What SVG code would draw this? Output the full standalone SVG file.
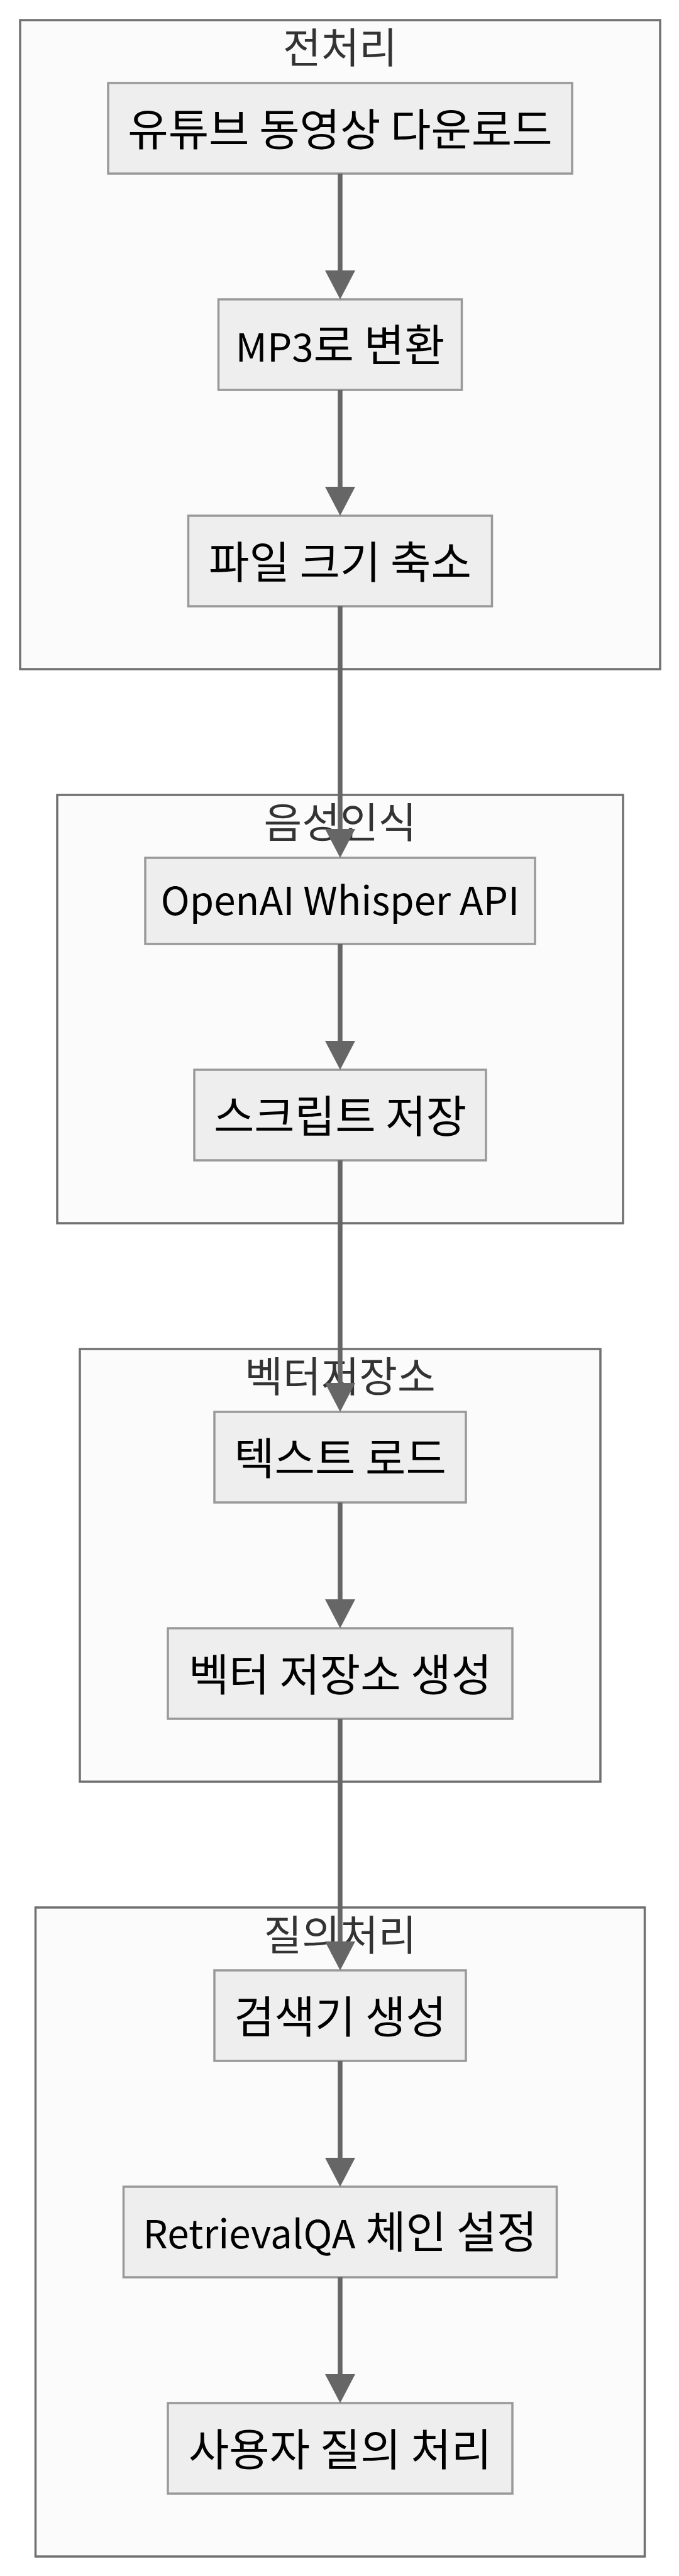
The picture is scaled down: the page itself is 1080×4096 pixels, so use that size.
<svg xmlns="http://www.w3.org/2000/svg" width="1080" height="4096" viewBox="0 0 1080 4096">
<defs>
<style>
.cluster rect{fill:#fbfbfb;stroke:#707070;stroke-width:3.5}
.cluster text{fill:#333333;font-family:"Noto Sans CJK KR","Noto Sans CJK SC",sans-serif;font-size:66px;text-anchor:middle}
.node rect{fill:#eeeeee;stroke:#999999;stroke-width:3.5}
.node text{fill:#000000;font-family:"Noto Sans CJK KR","Noto Sans CJK SC",sans-serif;font-size:70px;text-anchor:middle}
.node .lat{font-size:62px}
.edge line{stroke:#666666;stroke-width:7.5}
.edge polygon{fill:#666666}
</style>
</defs>
<rect x="0" y="0" width="1080" height="4096" fill="#ffffff"/>
<g id="clusters">
<g id="cluster-preprocess" class="cluster"><rect x="32" y="32" width="1018" height="1032"/><text x="541" y="100">전처리</text></g>
<g id="cluster-speech" class="cluster"><rect x="91" y="1264" width="900" height="681"/><text x="541" y="1332">음성인식</text></g>
<g id="cluster-vector" class="cluster"><rect x="127" y="2145" width="828" height="688"/><text x="541" y="2213">벡터저장소</text></g>
<g id="cluster-query" class="cluster"><rect x="56.5" y="3033" width="969" height="1032"/><text x="541" y="3101">질의처리</text></g>
</g>
<g id="nodes">
<g id="n1" class="node"><rect x="172" y="132" width="738" height="144"/><text x="541" y="232">유튜브 동영상 다운로드</text></g>
<g id="n2" class="node"><rect x="347.5" y="476" width="387" height="144"/><text x="541" y="575"><tspan class="lat">MP3</tspan>로 변환</text></g>
<g id="n3" class="node"><rect x="299.5" y="820" width="483" height="144"/><text x="541" y="920">파일 크기 축소</text></g>
<g id="n4" class="node"><rect x="231" y="1364" width="620" height="137"/><text x="541" y="1455" class="lat">OpenAI Whisper API</text></g>
<g id="n5" class="node"><rect x="309" y="1701" width="464" height="144"/><text x="541" y="1801">스크립트 저장</text></g>
<g id="n6" class="node"><rect x="341" y="2245" width="400" height="144"/><text x="541" y="2345">텍스트 로드</text></g>
<g id="n7" class="node"><rect x="267" y="2589" width="548" height="144"/><text x="541" y="2689">벡터 저장소 생성</text></g>
<g id="n8" class="node"><rect x="341" y="3133" width="400" height="144"/><text x="541" y="3233">검색기 생성</text></g>
<g id="n9" class="node"><rect x="196.5" y="3477" width="689" height="144"/><text x="541" y="3575"><tspan class="lat">RetrievalQA</tspan> 체인 설정</text></g>
<g id="n10" class="node"><rect x="267" y="3821" width="548" height="144"/><text x="541" y="3921">사용자 질의 처리</text></g>
</g>
<g id="connectors" class="edge">
<line x1="541" y1="276" x2="541" y2="432"/><polygon points="517,430 565,430 541,476"/>
<line x1="541" y1="620" x2="541" y2="776"/><polygon points="517,774 565,774 541,820"/>
<line x1="541" y1="964" x2="541" y2="1320"/><polygon points="517,1318 565,1318 541,1364"/>
<line x1="541" y1="1501" x2="541" y2="1657"/><polygon points="517,1655 565,1655 541,1701"/>
<line x1="541" y1="1845" x2="541" y2="2201"/><polygon points="517,2199 565,2199 541,2245"/>
<line x1="541" y1="2389" x2="541" y2="2545"/><polygon points="517,2543 565,2543 541,2589"/>
<line x1="541" y1="2733" x2="541" y2="3089"/><polygon points="517,3087 565,3087 541,3133"/>
<line x1="541" y1="3277" x2="541" y2="3433"/><polygon points="517,3431 565,3431 541,3477"/>
<line x1="541" y1="3621" x2="541" y2="3777"/><polygon points="517,3775 565,3775 541,3821"/>
</g>
</svg>
